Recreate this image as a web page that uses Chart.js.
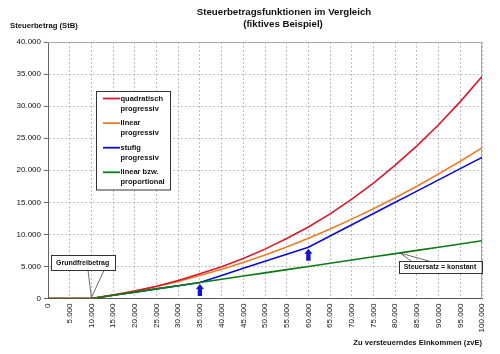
<!DOCTYPE html>
<html><head><meta charset="utf-8">
<script src="https://cdn.jsdelivr.net/npm/chart.js@4"></script>
<style>html,body{margin:0;padding:0;background:#fff}#wrap{width:500px;height:354px}</style>
</head><body><div id="wrap"><canvas id="c" width="500" height="354"></canvas></div>
<script>
// ---- data ----
const incomes = [0,5000,10000,15000,20000,25000,30000,35000,40000,45000,50000,55000,60000,65000,70000,75000,80000,85000,90000,95000,100000];
const quadratisch = [0,0,0,530,1160,1900,2800,3850,4950,6250,7700,9350,11150,13200,15500,18000,20800,23800,27100,30700,34600];
const linearProg  = [0,0,0,530,1150,1860,2660,3600,4550,5620,6790,8050,9400,10840,12380,14000,15700,17500,19430,21400,23500];
const stufig      = [0,0,0,500,1000,1500,2000,2500,3600,4700,5800,6900,8000,9750,11500,13250,15000,16750,18500,20250,22000];
const proportional= [0,0,0,500,1000,1500,2000,2500,3000,3500,4000,4500,5000,5500,6000,6500,7000,7500,8000,8500,9000];
const xTickValues = incomes;
const xTickLabels = ['0','5.000','10.000','15.000','20.000','25.000','30.000','35.000','40.000','45.000','50.000','55.000','60.000','65.000','70.000','75.000','80.000','85.000','90.000','95.000','100.000'];
const yTickValues = [0,5000,10000,15000,20000,25000,30000,35000,40000];
const yTickLabels = ['0','5.000','10.000','15.000','20.000','25.000','30.000','35.000','40.000'];
const seriesLegend = [['quadratisch','progressiv'],['linear','progressiv'],['stufig','progressiv'],['linear bzw.','proportional']];
const seriesValues = [quadratisch, linearProg, stufig, proportional];
const seriesColors = ['#d8182c','#f07a22','#0a0ad2','#0a7a12'];
const seriesOrder = [1,2,3,0];
const titleLines = ['Steuerbetragsfunktionen im Vergleich','(fiktives Beispiel)'];
const yTitle = 'Steuerbetrag (StB)';
const xTitle = 'Zu versteuerndes Einkommen (zvE)';
const arrowIncomes = [35000, 60000];
const calloutGrund = {text:'Grundfreibetrag', income:10000, value:0};
const calloutKonst = {text:'Steuersatz = konstant', income:80000, series:3};

const FONT = '"Liberation Sans", Arial, sans-serif';

const datasets = seriesValues.map((vals,i)=>({
  label: seriesLegend[i].join(' '),
  data: incomes.map((x,j)=>({x:x,y:vals[j]})),
  borderColor: seriesColors[i],
  backgroundColor: seriesColors[i],
  borderWidth: 1.6,
  pointRadius: 0,
  tension: 0,
  fill: false,
  order: seriesOrder[i]
}));

const deco = {
  id:'deco',
  beforeDraw(chart){
    const c=chart.ctx; c.save(); c.fillStyle='#fff'; c.fillRect(0,0,chart.width,chart.height); c.restore();
  },
  beforeDatasetsDraw(chart){
    const c=chart.ctx, a=chart.chartArea;
    c.save(); c.strokeStyle='#a8a8a8'; c.lineWidth=1;
    c.beginPath(); c.moveTo(a.left, a.top+0.5); c.lineTo(a.right-0.5, a.top+0.5); c.lineTo(a.right-0.5, a.bottom); c.stroke();
    c.restore();
  },
  afterDraw(chart){
    const c=chart.ctx, a=chart.chartArea, xs=chart.scales.x, ys=chart.scales.y;
    c.save();
    // titles
    c.fillStyle='#111'; c.textAlign='center'; c.textBaseline='middle';
    c.font='bold 9.7px '+FONT;
    c.fillText(titleLines[0], 284, 12.5);
    c.fillText(titleLines[1], 283, 24.5);
    c.font='bold 7.7px '+FONT; c.textAlign='left';
    c.fillText(yTitle, 10, 25.5);
    c.font='bold 7.6px '+FONT; c.textAlign='right';
    c.fillText(xTitle, a.right, 342.5);

    // arrows
    c.fillStyle='#1414c8';
    arrowIncomes.forEach(inc=>{
      const idx = incomes.indexOf(inc);
      const px = xs.getPixelForValue(inc);
      const tip = ys.getPixelForValue(stufig[idx]) + 1.5;
      const len = 12, hh=5, hw=4, sw=2.2;
      c.beginPath();
      c.moveTo(px, tip);
      c.lineTo(px+hw, tip+hh);
      c.lineTo(px+sw, tip+hh);
      c.lineTo(px+sw, tip+len);
      c.lineTo(px-sw, tip+len);
      c.lineTo(px-sw, tip+hh);
      c.lineTo(px-hw, tip+hh);
      c.closePath(); c.fill();
    });

    // callout boxes
    function box(x,y,w,h,text){
      c.fillStyle='#fff'; c.fillRect(x,y,w,h);
      c.strokeStyle='#333'; c.lineWidth=1; c.strokeRect(Math.round(x)+0.5,Math.round(y)+0.5,Math.round(w),Math.round(h));
      c.fillStyle='#111'; c.font='bold 7px '+FONT; c.textAlign='center'; c.textBaseline='middle';
      c.fillText(text, x+w/2, y+h/2+0.5);
    }
    // Grundfreibetrag
    {
      const ax = xs.getPixelForValue(calloutGrund.income), ay = ys.getPixelForValue(calloutGrund.value);
      const bx = ax-40.5, by = ay-43.5, bw=63.5, bh=14.5;
      c.strokeStyle='#444'; c.lineWidth=0.8;
      c.beginPath(); c.moveTo(ax-3.5, by+bh); c.lineTo(ax, ay-1); c.lineTo(ax+13, by+bh); c.stroke();
      box(bx,by,bw,bh,calloutGrund.text);
    }
    // Steuersatz konstant
    {
      const idx = incomes.indexOf(calloutKonst.income);
      const ax = xs.getPixelForValue(calloutKonst.income)+5, ay = ys.getPixelForValue(seriesValues[calloutKonst.series][idx]) - 0.5;
      const bx = ax-1.5, by = ay+8, bw=82.5, bh=11.8;
      c.strokeStyle='#444'; c.lineWidth=0.8;
      c.beginPath(); c.moveTo(ax+11, by); c.lineTo(ax, ay); c.lineTo(ax+29, by); c.stroke();
      box(bx,by,bw,bh,calloutKonst.text);
    }

    // legend
    const lx=96.5, ly=91.5, lw=74, lh=98.5;
    c.fillStyle='#fff'; c.fillRect(lx,ly,lw,lh);
    c.strokeStyle='#333'; c.lineWidth=1; c.strokeRect(lx,ly,lw,lh);
    c.font='bold 7.5px '+FONT; c.textAlign='left'; c.textBaseline='middle';
    seriesLegend.forEach((lines,i)=>{
      const yy = 98.5 + i*24.6;
      c.strokeStyle=seriesColors[i]; c.lineWidth=1.8;
      c.beginPath(); c.moveTo(103, yy); c.lineTo(120, yy); c.stroke();
      c.fillStyle='#111';
      c.fillText(lines[0], 120.5, yy);
      c.fillText(lines[1], 120.5, yy+10);
    });
    c.restore();
  }
};

new Chart(document.getElementById('c'), {
  type:'line',
  data:{datasets},
  options:{
    responsive:false, animation:false, devicePixelRatio:1,
    layout:{padding:{top:42,right:18,left:0,bottom:0}},
    plugins:{legend:{display:false}, title:{display:false}, tooltip:{enabled:false}},
    scales:{
      x:{
        type:'linear', min:0, max:100000,
        afterBuildTicks(s){ s.ticks = xTickValues.map(v=>({value:v})); },
        afterFit(s){ s.height = 55.5; s.paddingLeft=0; s.paddingRight=0; },
        ticks:{autoSkip:false, minRotation:90, maxRotation:90, padding:5, color:'#111',
          font:{family:FONT, size:8}, callback:(v,i)=>xTickLabels[i]},
        grid:{color:'#c0c0c0', lineWidth:1, drawTicks:false},
        border:{color:'#555', width:1, dash:[2,2]}
      },
      y:{
        type:'linear', min:0, max:40000,
        afterBuildTicks(s){ s.ticks = yTickValues.map(v=>({value:v})); },
        afterFit(s){ s.width = 48; s.paddingTop=0; s.paddingBottom=0; },
        ticks:{padding:3, color:'#111', font:{family:FONT, size:8}, callback:(v,i)=>yTickLabels[i]},
        grid:{color:'#c0c0c0', lineWidth:1, drawTicks:true, tickLength:4, tickColor:'#666', tickBorderDash:[]},
        border:{color:'#666', width:1, dash:[2,2]}
      }
    }
  },
  plugins:[deco]
});
</script>
</body></html>
